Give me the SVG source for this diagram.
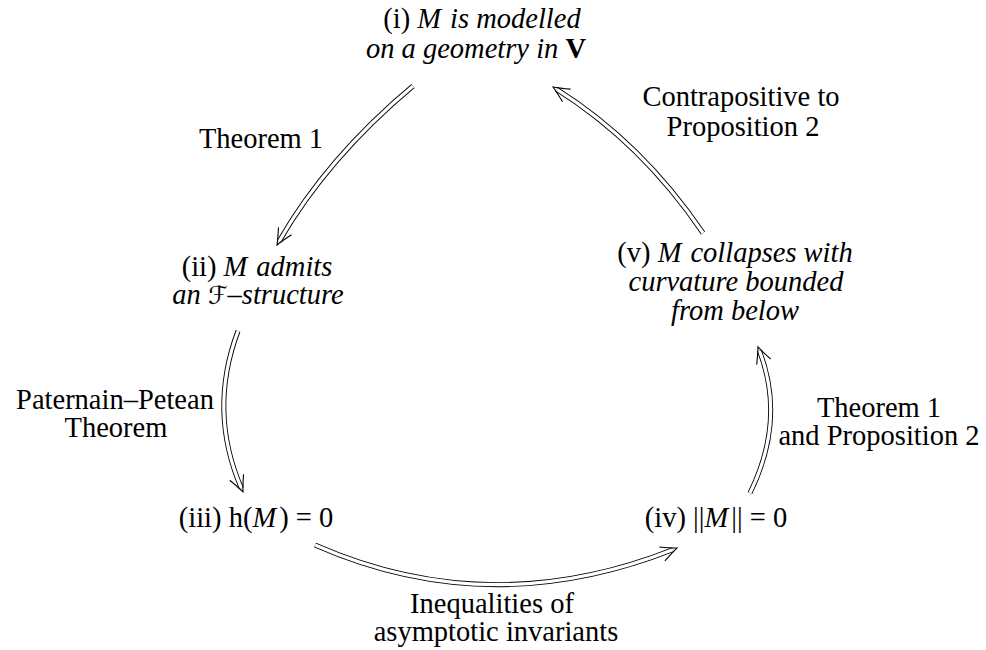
<svg xmlns="http://www.w3.org/2000/svg" width="986" height="650" viewBox="0 0 986 650">
<style>
.t{font-family:"Liberation Serif","Times New Roman",serif;font-size:28.5px;fill:#000;text-anchor:middle}
.i{font-style:italic}
.b{font-weight:bold}
.cal{font-family:"DejaVu Serif","DejaVu Sans",serif;font-style:normal;font-size:25px}
.o{fill:none;stroke:#000;stroke-width:5}
.n{fill:none;stroke:#fff;stroke-width:3.2;marker-end:url(#imp)}
</style>
<defs>
<marker id="imp" markerUnits="userSpaceOnUse" orient="auto" refX="0" refY="0" markerWidth="1" markerHeight="1" overflow="visible">
<path d="M-12,-7.5 Q-2,-2.4 4,0 Q-2,2.4 -12,7.5" fill="none" stroke="#000" stroke-width="1.1"/>
</marker>
</defs>
<rect width="986" height="650" fill="#fff"/>
<g id="connectors">
<path class="o" d="M413,86 Q327,158 279,241.5"/>
<path class="n" d="M413,86 Q327,158 279,241.5"/>
<path class="o" d="M238,331 Q208,411 241.4,488.3"/>
<path class="n" d="M238,331 Q208,411 241.4,488.3"/>
<path class="o" d="M315,545 Q490,622 673.3,549.5"/>
<path class="n" d="M315,545 Q490,622 673.3,549.5"/>
<path class="o" d="M750,493 Q786,420 759.4,350.7"/>
<path class="n" d="M750,493 Q786,420 759.4,350.7"/>
<path class="o" d="M703,233 Q642,143 556.4,89.1"/>
<path class="n" d="M703,233 Q642,143 556.4,89.1"/>
</g>
<g id="labels">
<text class="t" x="741" y="106">Contrapositive to</text>
<text class="t" x="743" y="136">Proposition 2</text>
<text class="t" x="261" y="148">Theorem 1</text>
<text class="t" x="115" y="409">Paternain–Petean</text>
<text class="t" x="116" y="437">Theorem</text>
<text class="t" x="879" y="417">Theorem 1</text>
<text class="t" x="879" y="445">and Proposition 2</text>
<text class="t" x="492" y="613">Inequalities of</text>
<text class="t" x="496" y="641">asymptotic invariants</text>
</g>
<g id="node-i">
<text class="t" x="482" y="28">(i) <tspan class="i">M</tspan><tspan class="i" dx="9">is modelled</tspan></text>
<text class="t" x="476" y="58"><tspan class="i">on a geometry in </tspan><tspan class="b">V</tspan></text>
</g>
<g id="node-ii">
<text class="t" x="257" y="276">(ii) <tspan class="i">M</tspan><tspan class="i" dx="9">admits</tspan></text>
<text class="t" x="258" y="304"><tspan class="i">an </tspan><tspan class="cal">ℱ</tspan><tspan class="i">–structure</tspan></text>
</g>
<g id="node-iii">
<text class="t" x="256" y="527">(iii) h(<tspan class="i">M</tspan><tspan dx="3">) = 0</tspan></text>
</g>
<g id="node-iv">
<text class="t" x="716" y="527">(iv) ||<tspan class="i">M</tspan><tspan dx="3">|| = 0</tspan></text>
</g>
<g id="node-v">
<text class="t" x="735" y="262">(v) <tspan class="i">M</tspan><tspan class="i" dx="9">collapses with</tspan></text>
<text class="t i" x="736" y="291">curvature bounded</text>
<text class="t i" x="735" y="320">from below</text>
</g>
</svg>
